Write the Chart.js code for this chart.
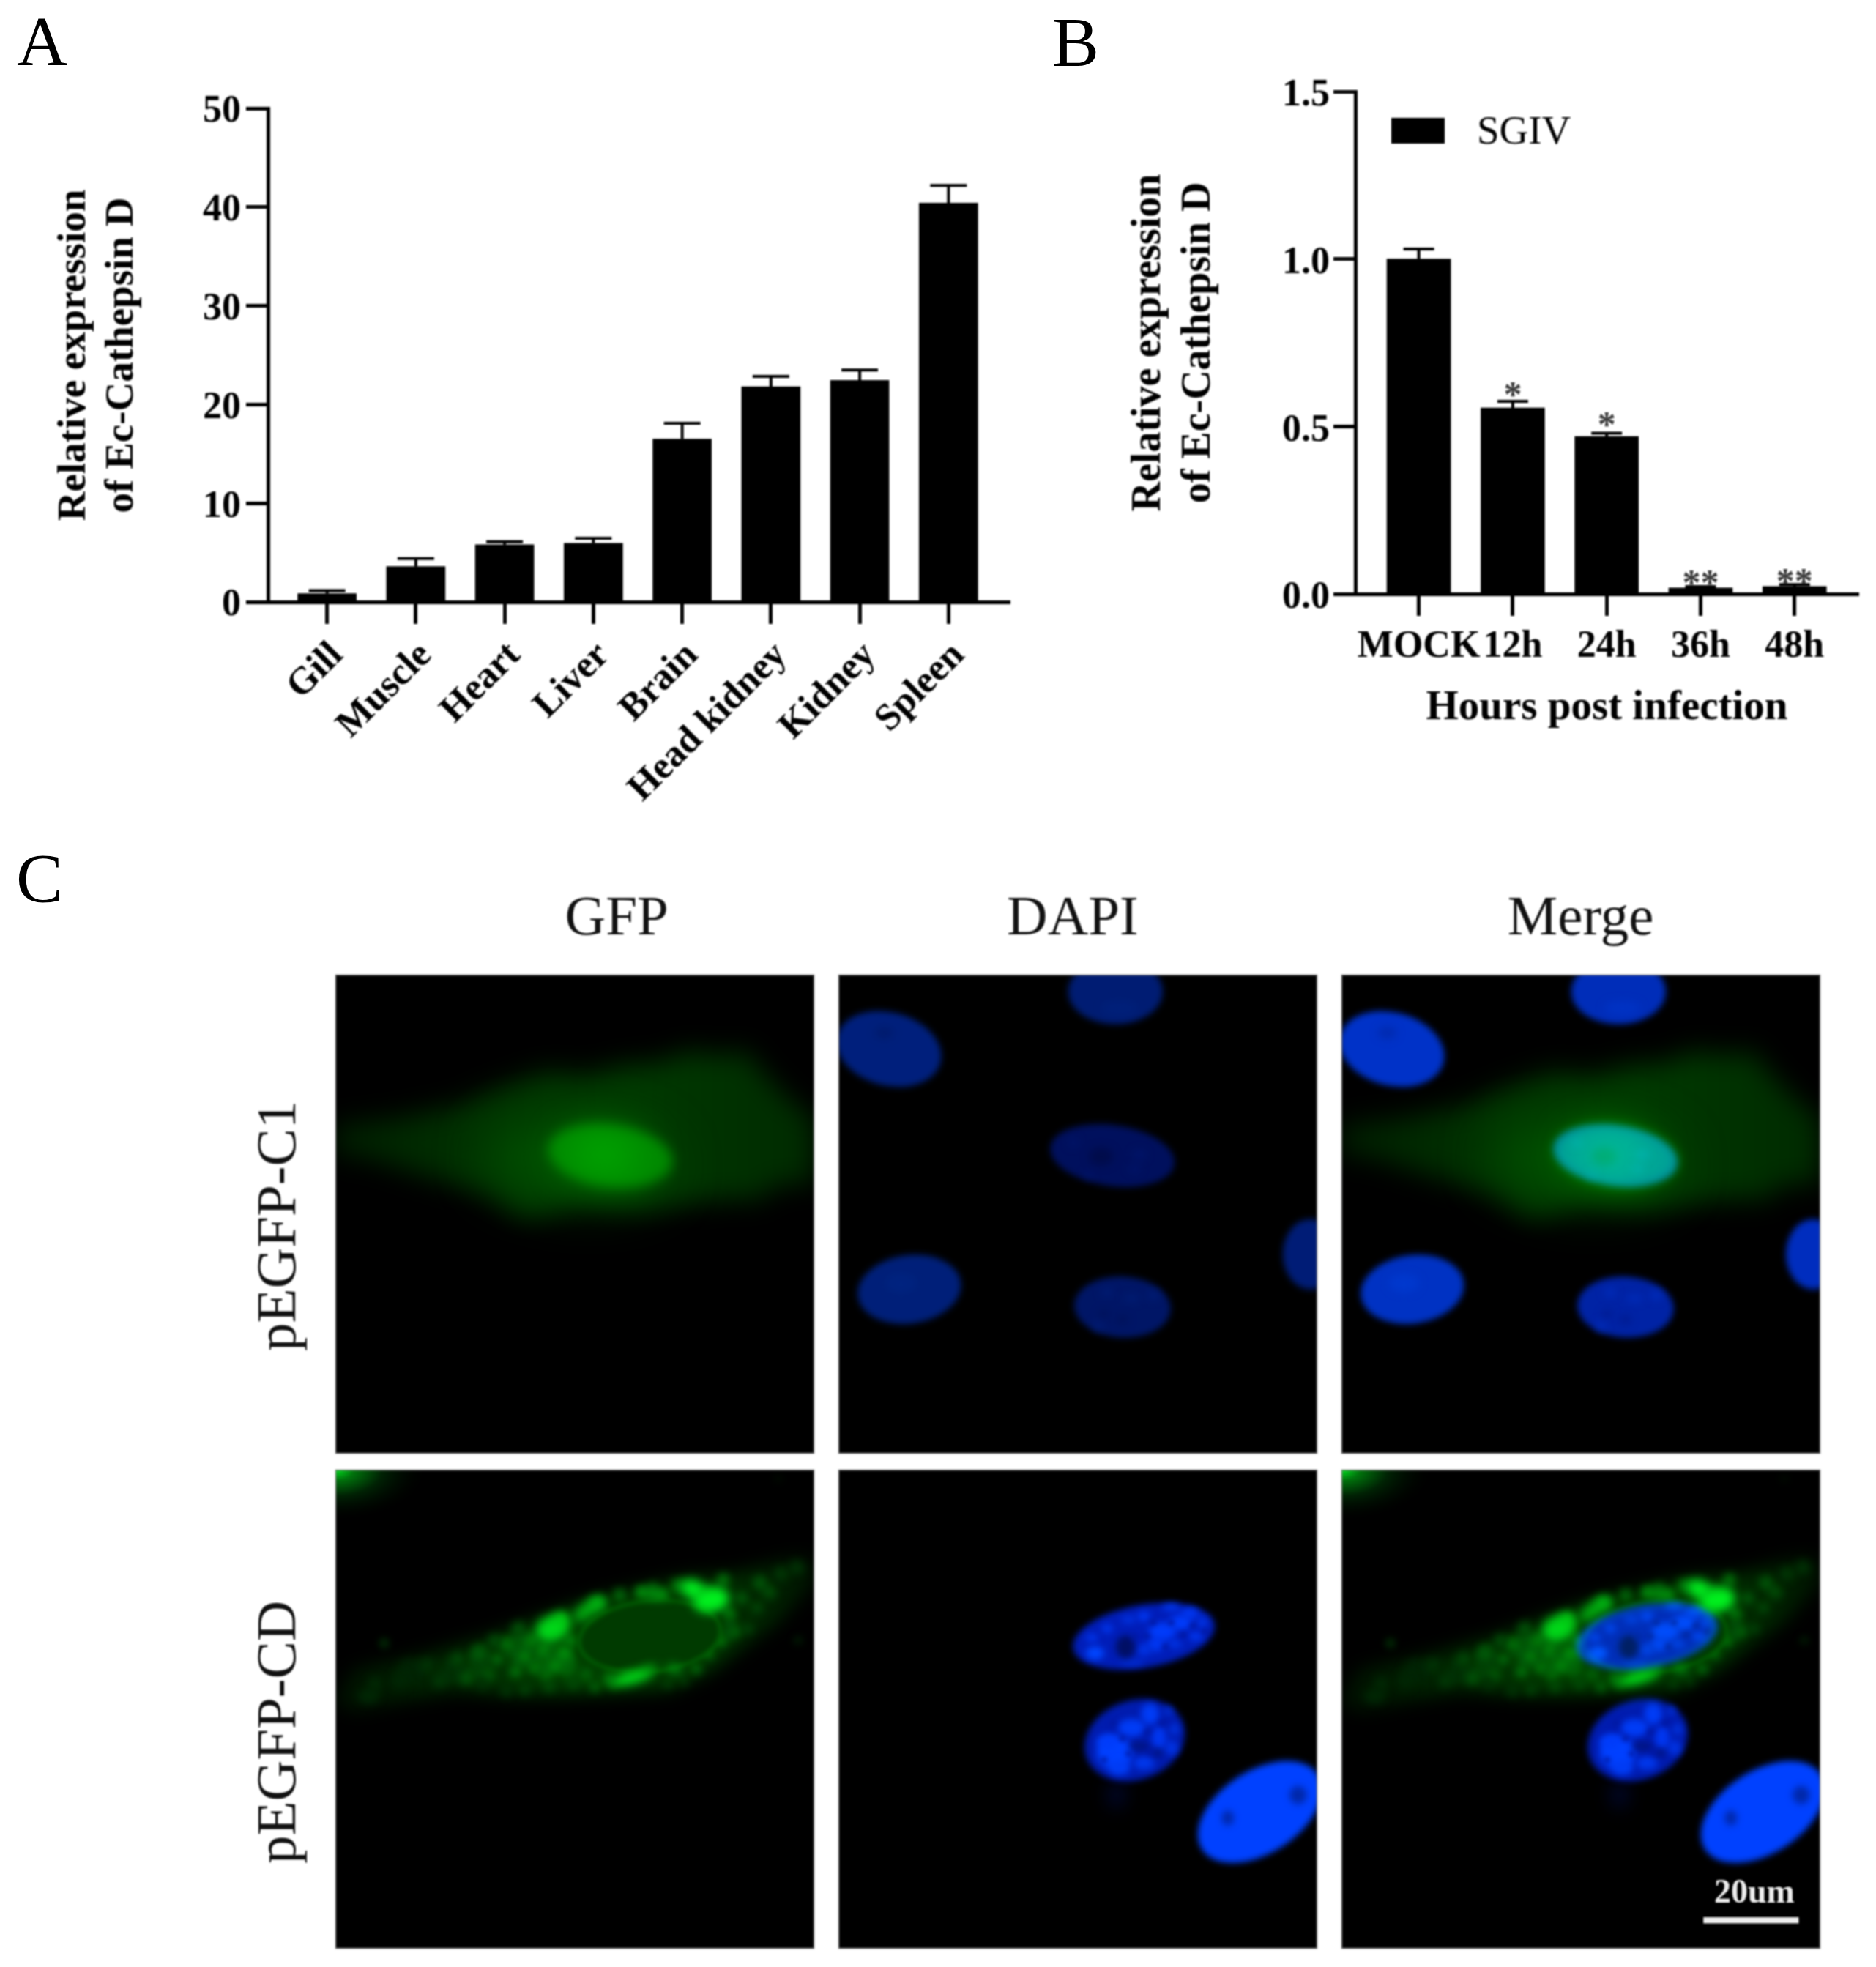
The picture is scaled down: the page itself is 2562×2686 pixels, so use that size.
<!DOCTYPE html>
<html><head><meta charset="utf-8">
<script src="https://cdn.jsdelivr.net/npm/chart.js@4"></script>
<style>
html,body{margin:0;padding:0;background:#fff;overflow:hidden;width:2562px;height:2686px}
canvas{position:absolute;filter:blur(0.9px)}
.letter{position:absolute;font:96px/1 "Liberation Serif",serif;color:#000;filter:blur(0.7px)}
</style></head><body>
<div class="letter" style="left:23px;top:9px">A</div>
<div class="letter" style="left:1437px;top:10px">B</div>
<div class="letter" style="left:22px;top:1152px">C</div>
<canvas id="a" width="1420" height="1130" style="left:0;top:0;width:1420px;height:1130px"></canvas>
<canvas id="b" width="1142" height="1050" style="left:1420px;top:0;width:1142px;height:1050px"></canvas>
<canvas id="c" width="2262" height="1506" style="left:300px;top:1180px;width:2262px;height:1506px"></canvas>
<script>
// ---------- Panel A ----------
const tissues = ["Gill","Muscle","Heart","Liver","Brain","Head kidney","Kidney","Spleen"];
const tissueExpr = [0.85,3.6,5.8,5.95,16.5,21.8,22.45,40.4];
const tissueErrTop = [1.15,4.4,6.1,6.45,18.1,22.85,23.5,42.2];
const tissueTicks = [0,10,20,30,40,50];
// ---------- Panel B ----------
const hours = ["MOCK","12h","24h","36h","48h"];
const sgivExpr = [1.0,0.555,0.47,0.018,0.022];
const sgivErrTop = [1.03,0.575,0.48,0.022,0.028];
const sgivStars = ["","*","*","**","**"];
const sgivStarLevel = [0,0.61,0.52,0.048,0.052];
const hourTicks = [0,0.5,1.0,1.5];
const yTitle = ["Relative expression","of Ec-Cathepsin D"];
// ---------- Panel C (image units: each panel spans 0..1568) ----------
const colOrigin = [0,1647,3294];
const rowOrigin = [0,1621];
const colHeads = ["GFP","DAPI","Merge"];
const colHeadX = [921,2414,4077];
const rowHeads = ["pEGFP-C1","pEGFP-CD"];
const rowHeadY = [822,2480];
const cell1 = [[0,490],[200,470],[400,430],[520,375],[650,330],[700,315],[820,330],[950,295],[1060,290],[1150,250],[1280,265],[1340,245],[1400,320],[1500,420],[1568,470],[1568,680],[1430,690],[1400,735],[1270,735],[1000,770],[800,750],[620,800],[500,720],[300,660],[100,600],[0,590]];
const cell2 = [[0,760],[60,650],[300,600],[500,545],[650,490],[850,420],[1000,385],[1150,350],[1300,340],[1500,285],[1568,290],[1568,370],[1450,500],[1350,570],[1230,660],[1100,720],[900,730],[600,740],[400,725],[200,760],[60,790]];
// cx, cy, rx, ry, rotation degrees, r, g, b
const nuclei1 = [[165,243,175,120,15,0,50,200],[907,55,155,107,0,0,45,185],[897,592,205,100,8,0,25,150],[232,1030,170,112,-8,0,50,195],[930,1088,158,100,3,0,35,165],[1545,915,90,115,0,0,45,190]];
const nuclei1Spots = [[770,550,16,14,0,32,170],[985,590,22,16,0,32,170],[970,635,20,10,0,34,175],[820,655,12,12,0,32,170],[860,595,40,30,0,18,120],[850,1150,14,16,0,45,190],[880,1040,20,12,0,45,190],[960,1060,30,10,0,45,190],[930,1130,18,14,0,25,140],[1030,1050,20,14,0,45,190],[870,1110,16,12,0,25,140],[150,190,30,20,0,42,175],[205,1010,50,30,0,56,205],[920,110,60,25,0,50,195]];
const nuclei2 = [[1000,545,235,103,-10,0,30,185],[970,885,168,130,-20,0,28,175],[1380,1120,226,135,-33,0,65,255]];
const nuclei2Spots = [[840,600,30,22,0,70,255],[830,550,20,12,0,55,240],[880,520,18,14,0,55,240],[1000,480,22,16,0,55,240],[1060,530,45,30,0,60,250],[1120,500,40,25,0,60,250],[1150,470,30,18,0,55,240],[1090,450,30,12,0,55,235],[1040,570,30,25,0,55,240],[1170,545,25,14,0,55,240],[950,490,25,12,0,50,225],[1000,590,25,20,0,50,225],[1100,570,25,15,0,50,225],[1190,500,18,20,0,50,225],[960,630,40,10,0,45,210],[940,580,32,38,0,15,100],
[905,925,60,55,0,65,255],[880,890,35,25,0,60,250],[1020,800,30,35,0,60,245],[960,845,45,30,0,60,245],[1050,880,25,40,0,55,240],[1000,960,35,22,0,55,235],[1090,910,22,25,0,50,225],[920,975,35,25,0,60,245],[1080,790,15,15,0,45,210],[1100,850,15,20,0,50,220],[985,905,35,15,0,20,130],[1045,925,18,15,0,20,130],
[1275,1140,20,25,0,40,170],[1505,1065,28,30,0,40,170]];
const nuclei2Gaps = [[1030,500],[1090,500],[1130,540],[1070,580],[1160,510],[1010,545],[970,545],[1200,530],[930,880],[900,830],[1010,860],[950,930],[1060,830],[870,950],[1020,920]];
const greenBright = [[1230,425,60,42,-10,0,240,30],[1170,390,42,30,20,0,235,30],[710,520,55,42,-20,0,215,25],[740,490,25,25,0,0,210,20],[830,455,60,24,-35,0,170,15],[860,435,25,18,0,0,190,20],[970,680,72,20,-15,0,225,25],[1040,405,50,16,8,0,160,15],[1110,652,28,14,15,0,150,15],[895,682,12,16,0,0,180,20],[905,702,10,10,0,0,160,15],[1030,650,30,9,-10,0,170,15]];
const greenDim = [[700,620,70,48,0,0,95,8],[610,590,50,60,0,0,85,8],[470,630,40,60,15,0,65,6],[380,660,40,40,0,0,48,5],[250,660,50,40,0,0,36,4],[760,640,30,40,0,0,100,8],[1290,520,28,40,0,0,75,8],[160,567,10,10,0,0,120,10],[1515,557,8,8,0,0,90,10],[1450,28,6,6,0,0,55,5],[110,740,35,25,0,0,40,5]];
// x, y, radius, green level
const greenGrain = [[130,700,14,40],[210,690,16,38],[300,640,15,50],[340,690,14,55],[400,620,14,70],[430,680,15,80],[470,600,14,90],[500,670,14,85],[530,620,12,105],[560,570,14,110],[590,660,12,115],[620,610,12,125],[640,560,14,120],[650,650,10,125],[680,590,12,130],[690,670,12,110],[720,640,12,135],[750,600,14,140],[770,560,12,130],[600,520,14,80],[520,560,12,80],[820,670,12,100],[850,710,10,105],[780,700,10,80],[700,710,10,80],[620,720,10,70],[560,725,10,55],[1180,650,12,100],[1220,600,12,110],[1260,560,12,120],[1290,470,12,120],[1310,530,10,100],[1350,520,10,70],[1380,450,12,70],[1420,400,14,75],[1390,370,14,85],[1460,340,14,55],[1510,320,14,50],[1330,420,12,90],[1270,360,12,120],[1120,380,14,110],[930,410,12,110],[1000,400,10,150],[1070,410,10,130],[1040,385,10,90],[1140,690,10,60],[1090,700,8,75],[480,700,12,50]];
const scaleBarText = "20um";

const SERIF = '"Liberation Serif","Times New Roman",serif';
const errorBars = {
  id:'errorBars',
  afterDatasetsDraw(chart,args,opts){
    const {ctx,scales:{x,y}} = chart;
    ctx.save(); ctx.strokeStyle='#000'; ctx.lineWidth=4;
    opts.values.forEach((v,i)=>{
      const px=x.getPixelForValue(i), y0=y.getPixelForValue(v), y1=y.getPixelForValue(opts.tops[i]);
      ctx.beginPath(); ctx.moveTo(px,y0); ctx.lineTo(px,y1);
      ctx.moveTo(px-opts.cap/2,y1); ctx.lineTo(px+opts.cap/2,y1); ctx.stroke();
    });
    ctx.restore();
  }
};
function barChart(id,cats,vals,tops,tickVals,ymax,cfg){
  return new Chart(document.getElementById(id),{
    type:'bar',
    data:{datasets:[{label:cfg.label,data:cats.map((_,i)=>({x:i,y:vals[i]})),backgroundColor:'#000',barThickness:cfg.bar}]},
    plugins:[errorBars].concat(cfg.plugins||[]),
    options:{
      responsive:false,animation:false,
      layout:{padding:cfg.pad},
      plugins:{legend:{display:false},tooltip:{enabled:false},errorBars:{values:vals,tops:tops,cap:cfg.cap}},
      scales:{
        x:{type:'linear',min:cfg.xmin,max:cfg.xmax,offset:false,
          afterBuildTicks:s=>{s.ticks=cats.map((_,i)=>({value:i}))},
          afterFit:s=>{s.height=cfg.xH},
          border:{color:'#000',width:5},
          grid:{offset:false,drawOnChartArea:false,drawTicks:true,tickLength:30,tickWidth:5,tickColor:'#000'},
          ticks:{autoSkip:false,color:'#000',font:{family:SERIF,weight:'bold',size:cfg.xFont},padding:cfg.xTickPad,
            minRotation:cfg.rot,maxRotation:cfg.rot,labelOffset:cfg.labelOffset||0,
            callback:v=>cats[v]},
          title:cfg.xTitle||{display:false}},
        y:{min:0,max:ymax,
          afterBuildTicks:s=>{s.ticks=tickVals.map(v=>({value:v}))},
          afterFit:s=>{s.width=cfg.yW},
          border:{color:'#000',width:5},
          grid:{drawOnChartArea:false,drawTicks:true,tickLength:30,tickWidth:5,tickColor:'#000'},
          ticks:{color:'#000',font:{family:SERIF,weight:'bold',size:cfg.yFont},padding:cfg.yTickPad,labelOffset:cfg.yLabelOffset,callback:v=>cfg.fmt(v)},
          title:{display:true,text:yTitle,color:'#000',font:{family:SERIF,weight:'bold',size:cfg.yTitleFont,lineHeight:cfg.yLH},padding:{top:cfg.yTitlePad,bottom:0}}}
      }
    }
  });
}
barChart('a',tissues,tissueExpr,tissueErrTop,tissueTicks,50,{
  label:'Relative expression',bar:80,cap:50,pad:{left:20,right:41,top:148,bottom:0},
  xmin:-0.665,xmax:7.69,xH:308,xFont:52,xTickPad:13,rot:45,labelOffset:14,
  yW:346,yFont:52,yTickPad:7,yLabelOffset:5,yTitleFont:55,yLH:1.18,yTitlePad:49,fmt:v=>String(v)
});
const stars = {
  id:'stars',
  afterDatasetsDraw(chart){
    const {ctx,scales:{x,y}} = chart;
    ctx.save(); ctx.fillStyle='#3a3a3a'; ctx.font='bold 50px '+SERIF; ctx.textAlign='center'; ctx.textBaseline='alphabetic';
    sgivStars.forEach((s,i)=>{ if(s) ctx.fillText(s,x.getPixelForValue(i),y.getPixelForValue(sgivStarLevel[i])+23); });
    // legend
    ctx.fillStyle='#000'; ctx.fillRect(480,161,73,35);
    ctx.font='55px '+SERIF; ctx.textAlign='left'; ctx.fillStyle='#000';
    ctx.fillText(chart.data.datasets[0].label,597,196);
    ctx.restore();
  }
};
barChart('b',hours,sgivExpr,sgivErrTop,hourTicks,1.5,{
  label:'SGIV',bar:87,cap:42,pad:{left:60,right:24,top:125,bottom:0},
  xmin:-0.675,xmax:4.68,xH:239,xFont:52,xTickPad:11,rot:0,plugins:[stars],
  xTitle:{display:true,text:'Hours post infection',color:'#000',font:{family:SERIF,weight:'bold',size:57,lineHeight:1.2},padding:{top:0,bottom:49}},
  yW:371,yFont:52,yTickPad:5,yLabelOffset:6,yTitleFont:56,yLH:1.21,yTitlePad:56,fmt:v=>v.toFixed(1)
});

// ---------- Panel C ----------
function ell(c,e,color,rot){
  c.fillStyle=color; c.beginPath();
  c.ellipse(e[0],e[1],e[2],e[3],(rot||0)*Math.PI/180,0,Math.PI*2); c.fill();
}
const rgb=(r,g,b)=>`rgb(${r},${g},${b})`;
function poly(c,pts){c.beginPath();pts.forEach((p,i)=>i?c.lineTo(p[0],p[1]):c.moveTo(p[0],p[1]));c.closePath();}
function layer(size,k,draw){
  const cv=document.createElement('canvas'); cv.width=cv.height=size;
  const c=cv.getContext('2d'); c.setTransform(k,0,0,k,0,0); draw(c); return cv;
}
const micrographs = {
  id:'micrographs',
  afterDatasetsDraw(chart){
    const {ctx,scales:{x,y}} = chart;
    const k=(x.getPixelForValue(1568)-x.getPixelForValue(0))/1568, size=Math.round(1568*k);
    const green1=layer(size,k,c=>{
      c.filter='blur(18px)';
      const g=c.createLinearGradient(0,0,1568,0);
      g.addColorStop(0,rgb(0,30,0));g.addColorStop(.3,rgb(0,50,0));g.addColorStop(.6,rgb(0,58,0));g.addColorStop(1,rgb(0,42,0));
      c.fillStyle=g; poly(c,cell1); c.fill();
      c.filter='blur(35px)'; c.globalAlpha=.7; ell(c,[790,610,300,125],rgb(0,95,0),4); c.globalAlpha=1;
      c.filter='blur(8px)'; ell(c,[900,592,205,100],rgb(0,135,0),7);
      c.filter='blur(28px)'; ell(c,[880,590,120,55],rgb(0,178,0),5);
      c.filter='none';
    });
    const blue1=layer(size,k,c=>{
      c.filter='blur(4px)';
      nuclei1.forEach(n=>ell(c,n,rgb(n[5],n[6],n[7]),n[4]));
      c.filter='blur(6px)';
      nuclei1Spots.forEach(s=>ell(c,s,rgb(s[4],s[5],s[6])));
      c.filter='none';
    });
    const green2=layer(size,k,c=>{
      c.save(); c.scale(1.8,1);
      const cg=c.createRadialGradient(0,0,0,0,0,170);
      cg.addColorStop(0,rgb(0,225,30));cg.addColorStop(.2,rgb(0,115,12));cg.addColorStop(.5,rgb(0,35,4));cg.addColorStop(1,'rgba(0,0,0,0)');
      c.fillStyle=cg;c.fillRect(0,0,200,200); c.restore();
      c.filter='blur(12px)';
      const g=c.createLinearGradient(0,0,1568,0);
      g.addColorStop(0,rgb(0,18,0));g.addColorStop(.25,rgb(0,40,0));g.addColorStop(.5,rgb(0,65,0));g.addColorStop(.8,rgb(0,50,0));g.addColorStop(1,rgb(0,20,0));
      c.fillStyle=g; poly(c,cell2); c.fill();
      c.filter='blur(6px)';
      greenDim.forEach(s=>ell(c,s,rgb(s[5],s[6],s[7]),s[4]));
      c.filter='blur(6px)';
      greenGrain.forEach(s=>ell(c,[s[0],s[1],s[2]*1.7,s[2]*1.7],rgb(0,s[3],Math.round(s[3]/12))));
      c.filter='blur(3px)';
      ell(c,[1030,545,236,120],rgb(0,105,5),-6);
      ell(c,[1030,545,228,112],rgb(0,58,0),-6);
      c.filter='blur(7px)';
      greenBright.forEach(s=>ell(c,s,rgb(s[5],s[6],s[7]),s[4]));
      c.filter='none';
    });
    const blue2=layer(size,k,c=>{
      c.filter='blur(12px)'; ell(c,[910,1065,25,40],rgb(0,8,55));
      c.filter='blur(4px)';
      nuclei2.forEach(n=>ell(c,n,rgb(n[5],n[6],n[7]),n[4]));
      c.filter='blur(5px)';
      nuclei2Spots.forEach(s=>ell(c,s,rgb(s[4],s[5],s[6])));
      c.filter='blur(3px)';
      nuclei2Gaps.forEach(s=>ell(c,[s[0],s[1],11,9],rgb(0,24,160)));
      c.filter='none';
    });
    const rows=[[green1,blue1,.62],[green2,blue2,1]];
    ctx.save();
    rows.forEach((r,ri)=>colOrigin.forEach((cu,ci)=>{
      const px=x.getPixelForValue(cu), py=y.getPixelForValue(rowOrigin[ri]);
      ctx.fillStyle='#000'; ctx.fillRect(px,py,size,size);
      if(ci!==1) ctx.drawImage(r[0],px,py);
      if(ci===2 && ri===1){ // nucleus interior is subdued under DAPI in the merge
        ctx.save(); ctx.translate(px,py); ctx.scale(k,k); ctx.filter='blur(6px)';
        ell(ctx,[1000,545,215,94],'rgba(0,0,0,.7)',-10); ctx.restore();
      }
      ctx.globalCompositeOperation='lighter';
      if(ci===1) ctx.globalAlpha=r[2];
      if(ci!==0) ctx.drawImage(r[1],px,py);
      ctx.globalAlpha=1; ctx.globalCompositeOperation='source-over';
      ctx.strokeStyle='rgba(125,125,125,.9)'; ctx.lineWidth=1.5; ctx.strokeRect(px+.5,py+.5,size-1,size-1);
    }));
    // scale bar
    const bx=x.getPixelForValue(colOrigin[2]+1185), bw=x.getPixelForValue(colOrigin[2]+1497)-bx;
    const by=y.getPixelForValue(rowOrigin[1]+1465), bh=y.getPixelForValue(rowOrigin[1]+1485)-by;
    ctx.fillStyle='#eee'; ctx.fillRect(bx,by,bw,bh);
    ctx.font='bold 46px '+SERIF; ctx.textAlign='center'; ctx.textBaseline='alphabetic'; ctx.fillStyle='#eee';
    ctx.fillText(scaleBarText,x.getPixelForValue(colOrigin[2]+1352),y.getPixelForValue(rowOrigin[1]+1417));
    // headers
    ctx.fillStyle='#111'; ctx.font='77px '+SERIF; ctx.textBaseline='middle';
    colHeads.forEach((t,i)=>ctx.fillText(t,x.getPixelForValue(colHeadX[i]),y.getPixelForValue(-180)));
    rowHeads.forEach((t,i)=>{
      ctx.save(); ctx.translate(x.getPixelForValue(-180),y.getPixelForValue(rowHeadY[i])); ctx.rotate(-Math.PI/2);
      ctx.fillText(t,0,0); ctx.restore();
    });
    ctx.restore();
  }
};
new Chart(document.getElementById('c'),{
  type:'scatter',
  data:{datasets:[
    {label:'pEGFP-C1 nuclei',data:nuclei1.map(n=>({x:n[0],y:n[1]})),pointRadius:0},
    {label:'pEGFP-CD nuclei',data:nuclei2.map(n=>({x:n[0],y:n[1]+rowOrigin[1]})),pointRadius:0}
  ]},
  plugins:[micrographs],
  options:{responsive:false,animation:false,
    layout:{padding:{left:158,top:151,right:76,bottom:25}},
    plugins:{legend:{display:false},tooltip:{enabled:false}},
    scales:{x:{type:'linear',display:false,min:0,max:3294+1568},y:{type:'linear',display:false,reverse:true,min:0,max:1621+1568}}
  }
});
</script></body></html>
